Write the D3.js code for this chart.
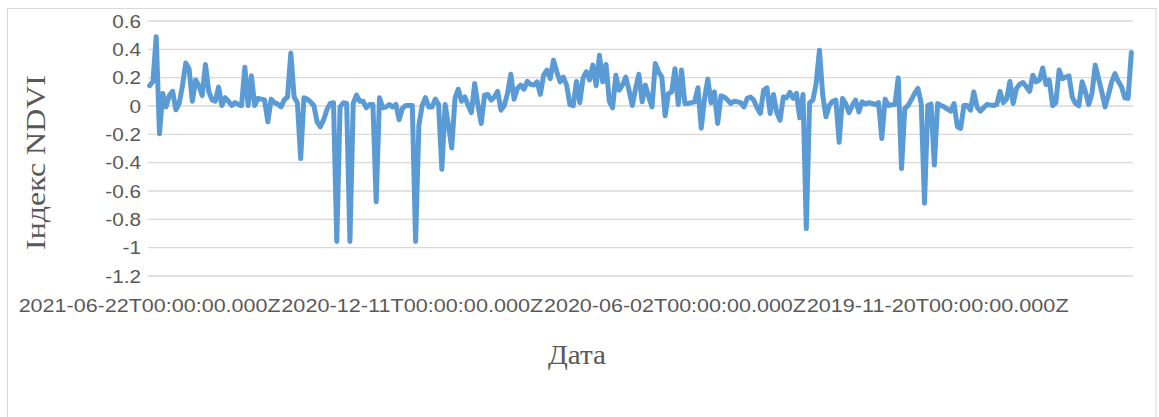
<!DOCTYPE html>
<html><head><meta charset="utf-8">
<script src="https://cdn.jsdelivr.net/npm/d3@7"></script>
<style>html,body{margin:0;padding:0;background:#fff;} svg{display:block}</style>
</head><body>
<svg id="c" width="1159" height="417"></svg>
<script>
// NDVI values, in category order (left to right as in the chart)
const ndvi = [
 0.14, 0.17, 0.485, -0.2, 0.085, -0.01, 0.07, 0.1, -0.03, 0.015,
 0.14, 0.3, 0.26, 0.03, 0.18, 0.14, 0.07, 0.29, 0.1, 0.04,
 0.03, 0.13, 0.0, 0.055, 0.03, 0.0, 0.02, 0.007, 0.0, 0.27,
 0.0, 0.21, 0.0, 0.05, 0.045, 0.04, -0.115, 0.045, 0.02, 0.01,
 -0.01, 0.04, 0.06, 0.37, 0.06, 0.02, -0.375, 0.055, 0.045, 0.025,
 0.0, -0.115, -0.15, -0.1, -0.03, 0.015, 0.02, -0.96, -0.01, 0.02,
 0.015, -0.96, 0.015, 0.073, 0.03, 0.03, -0.016, 0.007, 0.007, -0.68,
 0.055, -0.016, -0.01, 0.007, -0.01, 0.007, -0.1, -0.02, 0.0, 0.0,
 0.0, -0.96, -0.14, 0.0, 0.055, -0.01, -0.01, 0.045, 0.007, -0.45,
 0.007, -0.14, -0.3, 0.05, 0.115, 0.03, 0.06, 0.0, -0.05, 0.155,
 0.0, -0.127, 0.073, 0.078, 0.038, 0.06, 0.1, -0.033, 0.0, 0.085,
 0.22, 0.045, 0.12, 0.144, 0.115, 0.17, 0.15, 0.144, 0.167,
 0.078, 0.214, 0.25, 0.19, 0.32, 0.238, 0.167, 0.2, 0.144, 0.007,
 -0.002, 0.17, 0.02, 0.195, 0.238, 0.18, 0.285, 0.14, 0.355, 0.167,
 0.29, 0.03, -0.016, 0.214, 0.108, 0.144, 0.2, 0.108, 0.0, 0.12,
 0.22, 0.026, 0.144, 0.06, -0.01, 0.296, 0.238, 0.2, -0.073, 0.085,
 0.096, 0.26, 0.007, 0.25, 0.014, 0.014, 0.02, 0.026, 0.125, -0.16,
 0.05, 0.186, 0.02, 0.096, -0.127, 0.068, 0.06, 0.04, 0.014,
 0.03, 0.026, 0.02, -0.01, 0.05, 0.06, 0.038, -0.016, -0.056, 0.108, 0.125,
 -0.056, 0.078, -0.05, -0.104, 0.06, 0.055, 0.092, 0.05, 0.085, -0.087,
 0.078, -0.87, 0.02, 0.038, 0.155, 0.39, 0.073, -0.08, 0.0, 0.03,
 0.038, -0.26, 0.05, 0.014, -0.05, 0.0, 0.038, -0.045, 0.026, 0.01,
 0.02, 0.014, 0.007, 0.02, -0.233, 0.045, 0.0, 0.005, 0.007, 0.195,
 -0.445, -0.02, 0.0, 0.04, 0.085, 0.12, 0.014, -0.69, 0.0,
 0.01, -0.42, 0.014, 0.0, -0.01, -0.026, -0.04, 0.014, -0.15, -0.162,
 0.0, 0.0, -0.033, 0.096, -0.01, -0.04, -0.016, 0.007, 0.003, 0.0,
 0.007, 0.1, 0.02, 0.045, 0.17, 0.014, 0.12, 0.15, 0.162, 0.132,
 0.1, 0.214, 0.167, 0.18, 0.265, 0.148, 0.18, 0.0, 0.02, 0.25,
 0.19, 0.2, 0.21, 0.06, 0.014, -0.002, 0.167, 0.096, 0.007, 0.085,
 0.285, 0.19, 0.096, -0.01, 0.073, 0.167, 0.225, 0.17, 0.132, 0.055,
 0.05, 0.374
];
// category indices that carry a label, and their labels
const tickIndices = [0, 80, 160, 240];
const tickLabels = ["2021-06-22T00:00:00.000Z", "2020-12-11T00:00:00.000Z",
                    "2020-06-02T00:00:00.000Z", "2019-11-20T00:00:00.000Z"];
const yTicks = [0.6, 0.4, 0.2, 0, -0.2, -0.4, -0.6, -0.8, -1, -1.2];
const yTitle = "Індекс NDVI";
const xTitle = "Дата";

const svg = d3.select("#c");
const plot = {left: 148, right: 1133, top: 20.5, bottom: 275.5};
const grey = "#595959";

svg.append("rect").attr("x", 7.5).attr("y", 8.5).attr("width", 1148.5).attr("height", 440)
  .attr("fill", "#fff").attr("stroke", "#d9d9d9").attr("stroke-width", 1);

const x = d3.scaleBand().domain(d3.range(ndvi.length)).range([plot.left, plot.right]);
const xc = i => x(i) + x.bandwidth() / 2;
const y = d3.scaleLinear().domain([-1.2, 0.6]).range([plot.bottom, plot.top]);

// Y axis with gridlines
const gy = svg.append("g").attr("transform", `translate(${plot.left},0)`)
  .call(d3.axisLeft(y).tickValues(yTicks).tickSize(-(plot.right - plot.left)).tickPadding(7)
        .tickFormat(d => String(Math.round(d * 10) / 10)));
gy.select(".domain").remove();
gy.selectAll(".tick line").attr("stroke", "#d9d9d9").attr("stroke-width", 1.3);
gy.selectAll(".tick text").attr("fill", grey).attr("font-family", "'Liberation Sans', Arial, sans-serif")
  .attr("font-size", 18.5).attr("dy", "0.36em")
  .each(function() { const w = this.getComputedTextLength();
    this.setAttribute("textLength", w * 1.12); this.setAttribute("lengthAdjust", "spacingAndGlyphs"); });

// X axis labels
const gx = svg.append("g").attr("transform", `translate(0,${plot.bottom})`)
  .call(d3.axisBottom(x).tickValues(tickIndices).tickSize(0)
        .tickFormat(i => tickLabels[tickIndices.indexOf(i)]));
gx.select(".domain").remove();
gx.selectAll(".tick text").attr("fill", grey).attr("font-family", "'Liberation Sans', Arial, sans-serif")
  .attr("font-size", 18.5).attr("y", 312 - plot.bottom).attr("dy", 0)
  .attr("textLength", 262).attr("lengthAdjust", "spacingAndGlyphs");

// Line
svg.append("path").datum(ndvi)
  .attr("fill", "none").attr("stroke", "#5B9BD5").attr("stroke-width", 5)
  .attr("stroke-linejoin", "round").attr("stroke-linecap", "round")
  .attr("d", d3.line().x((d, i) => xc(i)).y(d => y(d)));

// Axis titles
svg.append("text").attr("transform", "translate(45,162.5) rotate(-90)")
  .attr("text-anchor", "middle").attr("fill", grey)
  .attr("font-family", "'Liberation Serif', 'Times New Roman', serif").attr("font-size", 28)
  .attr("textLength", 175).attr("lengthAdjust", "spacingAndGlyphs").text(yTitle);
svg.append("text").attr("x", 577).attr("y", 364).attr("text-anchor", "middle").attr("fill", grey)
  .attr("font-family", "'Liberation Serif', 'Times New Roman', serif").attr("font-size", 27)
  .attr("textLength", 58).attr("lengthAdjust", "spacingAndGlyphs").text(xTitle);
</script>
</body></html>
